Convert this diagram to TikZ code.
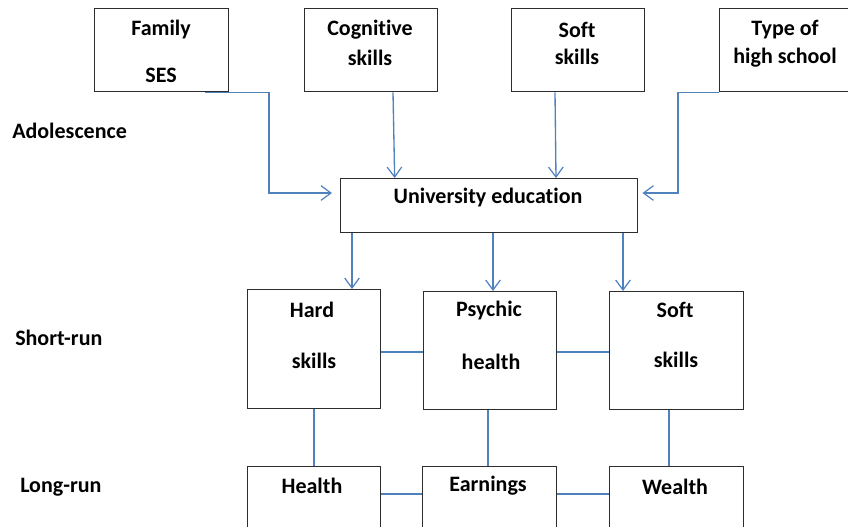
\documentclass[tikz,border=0pt]{standalone}
\usepackage{fontspec}
\setmainfont[Ligatures=NoCommon]{Carlito}
\usetikzlibrary{arrows.meta}
\definecolor{linkblue}{RGB}{79,129,189}
\definecolor{boxline}{RGB}{45,45,45}

\begin{document}
\begin{tikzpicture}[x=0.75pt,y=-0.75pt,
  box/.style={draw=boxline, line width=1.1pt, inner sep=0pt, anchor=north west},
  txt/.style={font=\bfseries\fontsize{16.5}{19}\selectfont, inner sep=0pt},
  link/.style={draw=linkblue, line width=1pt},
  flow/.style={link, -{Straight Barb[length=7.5pt,width=11pt,line width=0.9pt]}}]
\useasboundingbox (0,0) rectangle (848,526);
\clip (0,0) rectangle (848,526);

% stage labels
\node[txt, anchor=west] (stA) at (12,131) {Adolescence};
\node[txt, anchor=west] (stS) at (15,338) {Short-run};
\node[txt, anchor=west] (stL) at (20,487) {Long-run};

% adolescence factors
\node[box, minimum width=100.5pt, minimum height=62.25pt] (fam)  at (94,8)  {};
\node[box, minimum width=99.75pt, minimum height=62.25pt] (cog)  at (304,8) {};
\node[box, minimum width=99.75pt, minimum height=62.25pt] (soft) at (511,8) {};
\node[box, minimum width=99.75pt, minimum height=62.25pt] (type) at (719,8) {};
\node[txt] (famA)  at (161,30) {Family};
\node[txt] (famB)  at (161,75) {SES};
\node[txt] (cogA)  at (370,30) {Cognitive};
\node[txt] (cogB)  at (370,58) {skills};
\node[txt] (softA) at (577,30) {Soft};
\node[txt] (softB) at (577,57) {skills};
\node[txt] (typeA) at (785,30) {Type of};
\node[txt] (typeB) at (785,58) {high school};

% university
\node[box, minimum width=222.75pt, minimum height=40.5pt] (uni) at (340,178) {};
\node[txt] (uniT) at (488,198) {University education};

% short-run outcomes
\node[box, minimum width=99.75pt, minimum height=89.25pt] (hard) at (247,289) {};
\node[box, minimum width=99.75pt, minimum height=88.5pt]  (psy)  at (423,291) {};
\node[box, minimum width=100.5pt, minimum height=88.5pt]  (sft)  at (609,291) {};
\node[txt] (hardA) at (312,310) {Hard};
\node[txt] (hardB) at (314,361) {skills};
\node[txt] (psyA)  at (489,311) {Psychic};
\node[txt] (psyB)  at (491,362) {health};
\node[txt] (sftA)  at (675,310) {Soft};
\node[txt] (sftB)  at (676,360) {skills};

% long-run outcomes
\node[box, minimum width=99.75pt, minimum height=60pt] (hlth) at (247,466) {};
\node[box, minimum width=100.5pt, minimum height=60pt] (earn) at (422,466) {};
\node[box, minimum width=100.5pt, minimum height=60pt] (wlth) at (609,466) {};
\node[txt] (hlthT) at (312,486) {Health};
\node[txt] (earnT) at (488,486) {Earnings};
\node[txt] (wlthT) at (675,487) {Wealth};

% arrows into university education
\draw[flow] ([xshift=-18pt]fam.south east) -| ([xshift=-53.25pt,yshift=-11.25pt]uni.north west)
            -- ([xshift=-6pt,yshift=-11.25pt]uni.north west);
\draw[flow] ([xshift=66.75pt]cog.south west) -- ([xshift=41pt]uni.north west);
\draw[flow] ([xshift=33pt]soft.south west) -- ([xshift=162pt]uni.north west);
\draw[flow] (type.south west) -- ++(-41,0) |- ([xshift=3pt,yshift=-11.25pt]uni.north east);

% arrows out of university education
\draw[flow] ([xshift=9pt]uni.south west)      -- ([xshift=9pt]uni.south west |- hard.north);
\draw[flow] ([xshift=114.75pt]uni.south west) -- ([xshift=114.75pt]uni.south west |- psy.north);
\draw[flow] ([xshift=212.25pt]uni.south west) -- ([xshift=212.25pt]uni.south west |- sft.north);

% links among short-run outcomes
\draw[link] ([yshift=-47.25pt]hard.north east) -- ([yshift=-45.75pt]psy.north west);
\draw[link] ([yshift=-45.75pt]psy.north east)  -- ([yshift=-45.75pt]sft.north west);

% links from short-run to long-run
\draw[link] ([xshift=50.25pt]hard.south west) -- ([xshift=50.25pt]hard.south west |- hlth.north);
\draw[link] ([xshift=48.75pt]psy.south west)  -- ([xshift=48.75pt]psy.south west |- earn.north);
\draw[link] ([xshift=45pt]sft.south west)     -- ([xshift=45pt]sft.south west |- wlth.north);

% links among long-run outcomes
\draw[link] ([yshift=-21pt]hlth.north east) -- ([yshift=-21pt]earn.north west);
\draw[link] ([yshift=-21pt]earn.north east) -- ([yshift=-21pt]wlth.north west);
\end{tikzpicture}
\end{document}
